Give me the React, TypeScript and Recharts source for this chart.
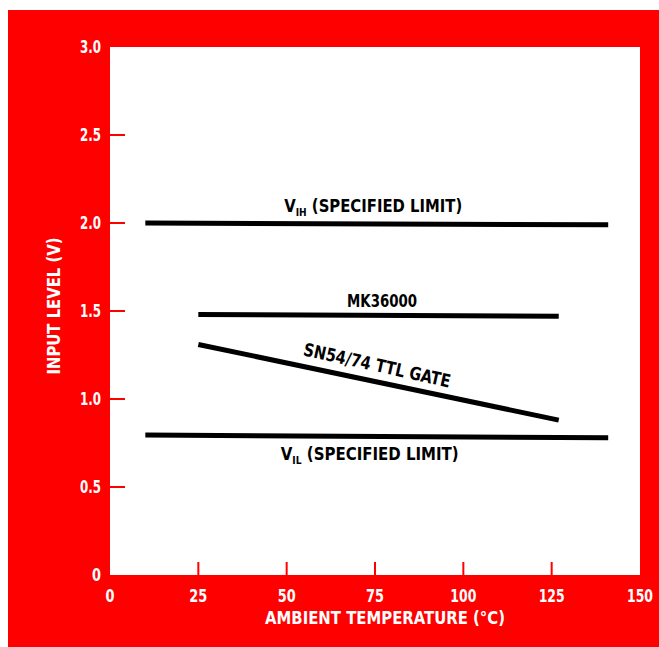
import React from "react";
import {
  LineChart,
  Line,
  XAxis,
  YAxis,
  ReferenceArea,
  ReferenceDot,
} from "recharts";

// Temperature (°C) and input level (V) for each trace
const vihTemps = [10, 141];
const vihLevels = [2.0, 1.99];
const mkTemps = [25, 127];
const mkLevels = [1.48, 1.47];
const ttlTemps = [25, 127];
const ttlLevels = [1.31, 0.88];
const vilTemps = [10, 141];
const vilLevels = [0.795, 0.78];

const xTicks = [0, 25, 50, 75, 100, 125, 150];
const yTicks = [0, 0.5, 1.0, 1.5, 2.0, 2.5, 3.0];
const yTickLabels = ["0", "0.5", "1.0", "1.5", "2.0", "2.5", "3.0"];

// Annotation anchors (data coordinates)
const labelNames = ["VIH", "MK36000", "SN54/74 TTL GATE", "VIL"];
const labelTemps = [74.5, 77, 75.6, 73.5];
const labelLevels = [2.06, 1.523, 1.19, 0.655];

const toData = (ts: number[], vs: number[]) => ts.map((t, i) => ({ t, v: vs[i] }));
const vihData = toData(vihTemps, vihLevels);
const mkData = toData(mkTemps, mkLevels);
const ttlData = toData(ttlTemps, ttlLevels);
const vilData = toData(vilTemps, vilLevels);

const FONT = "'DejaVu Sans Condensed', 'DejaVu Sans', sans-serif";
const RED = "#ff0000";

const tickTextStyle = { fontStretch: "condensed" as const };

const XTick = (props: any) => {
  const { x, y, payload } = props;
  const v = payload.value;
  const inner = v !== 0 && v !== 150;
  const s = String(v);
  return (
    <g>
      {inner && <line x1={x} y1={y} x2={x} y2={y - 13} stroke={RED} strokeWidth={2} />}
      <text
        x={x}
        y={y + 27}
        textAnchor="middle"
        fill="#ffffff"
        fontFamily={FONT}
        fontWeight="bold"
        fontSize={17}
        style={tickTextStyle}
        textLength={s.length === 1 ? 9 : s.length === 2 ? 18 : 26}
        lengthAdjust="spacingAndGlyphs"
      >
        {s}
      </text>
    </g>
  );
};

const YTick = (props: any) => {
  const { x, y, payload } = props;
  const v = payload.value;
  const idx = yTicks.indexOf(v);
  const inner = v !== 0 && v !== 3;
  const s = idx >= 0 ? yTickLabels[idx] : String(v);
  return (
    <g>
      {inner && <line x1={x} y1={y} x2={x + 15} y2={y} stroke={RED} strokeWidth={2} />}
      <text
        x={x - 9}
        y={y + 6}
        textAnchor="end"
        fill="#ffffff"
        fontFamily={FONT}
        fontWeight="bold"
        fontSize={17}
        style={tickTextStyle}
        textLength={s.length === 1 ? 9 : 21}
        lengthAdjust="spacingAndGlyphs"
      >
        {s}
      </text>
    </g>
  );
};

const annotationLabel = (name: string) => (props: any) => {
  const vb = props.viewBox || {};
  const cx = (vb.x || 0) + (vb.width || 0) / 2;
  const cy = (vb.y || 0) + (vb.height || 0) / 2;
  const common = {
    fill: "#000000",
    fontFamily: FONT,
    fontWeight: "bold" as const,
    fontSize: 18,
    textAnchor: "middle" as const,
    lengthAdjust: "spacingAndGlyphs" as const,
    style: tickTextStyle,
  };
  if (name === "VIH" || name === "VIL") {
    const sub = name === "VIH" ? "IH" : "IL";
    return (
      <text x={cx} y={cy} {...common} textLength={178}>
        V<tspan fontSize={11} dy={4}>{sub}</tspan>
        <tspan dy={-4}> (SPECIFIED LIMIT)</tspan>
      </text>
    );
  }
  if (name === "SN54/74 TTL GATE") {
    return (
      <text x={cx} y={cy + 6} {...common} textLength={150} transform={`rotate(12.5 ${cx} ${cy})`}>
        {name}
      </text>
    );
  }
  return (
    <text x={cx} y={cy} {...common} textLength={70}>
      {name}
    </text>
  );
};

export default function App() {
  return (
    <>
      <style>{`body{margin:0;}`}</style>
      <div
        style={{
          position: "absolute",
          left: 8,
          top: 10,
          width: 651,
          height: 637,
          background: RED,
        }}
      >
        <LineChart width={651} height={637} margin={{ top: 37, right: 19, bottom: 0, left: 0 }}>
          <XAxis
            type="number"
            dataKey="t"
            domain={[0, 150]}
            ticks={xTicks}
            allowDataOverflow
            axisLine={false}
            tickLine={false}
            tickSize={0}
            tickMargin={0}
            height={72}
            tick={<XTick />}
            interval={0}
            label={{
              content: (p: any) => {
                const vb = p.viewBox;
                return (
                  <text
                    x={vb.x + vb.width / 2 + 10}
                    y={vb.y + 49}
                    textAnchor="middle"
                    fill="#ffffff"
                    fontFamily={FONT}
                    fontWeight="bold"
                    fontSize={17}
                    style={tickTextStyle}
                    textLength={240}
                    lengthAdjust="spacingAndGlyphs"
                  >
                    AMBIENT TEMPERATURE  (°C)
                  </text>
                );
              },
            }}
          />
          <YAxis
            type="number"
            domain={[0, 3]}
            ticks={yTicks}
            allowDataOverflow
            axisLine={false}
            tickLine={false}
            tickSize={0}
            tickMargin={0}
            width={102}
            tick={<YTick />}
            interval={0}
            label={{
              content: (p: any) => {
                const vb = p.viewBox;
                const cx = vb.x + 46;
                const cy = vb.y + vb.height / 2 - 5;
                return (
                  <text
                    x={cx}
                    y={cy}
                    transform={`rotate(-90 ${cx} ${cy})`}
                    textAnchor="middle"
                    dominantBaseline="central"
                    fill="#ffffff"
                    fontFamily={FONT}
                    fontWeight="bold"
                    fontSize={17}
                    style={tickTextStyle}
                    textLength={137}
                    lengthAdjust="spacingAndGlyphs"
                  >
                    INPUT LEVEL (V)
                  </text>
                );
              },
            }}
          />
          <ReferenceArea x1={0} x2={150} y1={0} y2={3} fill="#ffffff" fillOpacity={1} stroke="none" />
          <Line data={vihData} dataKey="v" stroke="#000000" strokeWidth={5} dot={false} isAnimationActive={false} />
          <Line data={mkData} dataKey="v" stroke="#000000" strokeWidth={5} dot={false} isAnimationActive={false} />
          <Line data={ttlData} dataKey="v" stroke="#000000" strokeWidth={5} dot={false} isAnimationActive={false} />
          <Line data={vilData} dataKey="v" stroke="#000000" strokeWidth={5} dot={false} isAnimationActive={false} />
          {labelNames.map((name, i) => (
            <ReferenceDot
              key={name}
              x={labelTemps[i]}
              y={labelLevels[i]}
              r={1}
              fill="none"
              stroke="none"
              label={{ content: annotationLabel(name) }}
            />
          ))}
        </LineChart>
      </div>
    </>
  );
}
